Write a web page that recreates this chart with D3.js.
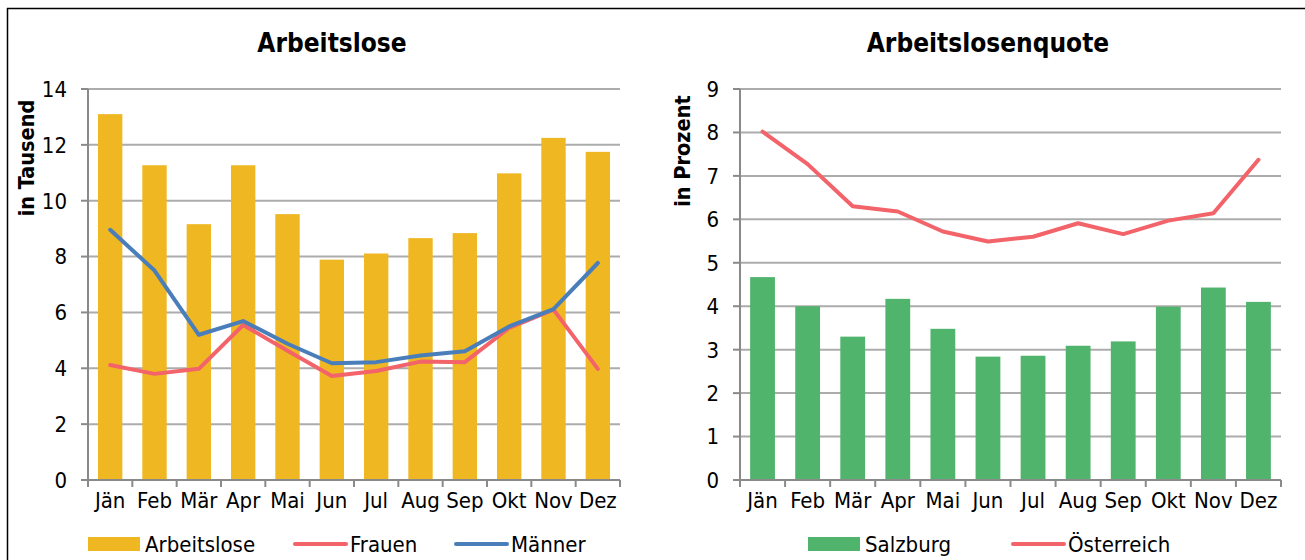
<!DOCTYPE html>
<html>
<head>
<meta charset="utf-8">
<script src="https://cdn.jsdelivr.net/npm/d3@7"></script>
<style>
  body { margin: 0; background: #fff; }
  svg text { font-family: "DejaVu Sans Condensed", "DejaVu Sans", sans-serif; font-stretch: condensed; fill: #000; }
</style>
</head>
<body>
<svg id="chart" width="1305" height="560"></svg>
<script>
// months, shared by both panels
var months = ['Jän', 'Feb', 'Mär', 'Apr', 'Mai', 'Jun', 'Jul', 'Aug', 'Sep', 'Okt', 'Nov', 'Dez'];

// Arbeitslose in Tausend
var arbeitslose = [13.1, 11.27, 9.16, 11.27, 9.52, 7.89, 8.11, 8.66, 8.84, 10.98, 12.25, 11.75];
var frauen      = [4.12, 3.8, 3.98, 5.55, 4.63, 3.72, 3.9, 4.24, 4.22, 5.45, 6.1, 3.98];
var maenner     = [8.96, 7.5, 5.2, 5.69, 4.88, 4.18, 4.22, 4.46, 4.61, 5.5, 6.12, 7.77];
var ticksLeft   = [0, 2, 4, 6, 8, 10, 12, 14];

// Arbeitslosenquote in Prozent
var salzburg    = [4.67, 4.0, 3.3, 4.17, 3.48, 2.84, 2.86, 3.09, 3.19, 3.99, 4.43, 4.1];
var oesterreich = [8.02, 7.27, 6.3, 6.18, 5.72, 5.49, 5.6, 5.91, 5.66, 5.97, 6.14, 7.37];
var ticksRight  = [0, 1, 2, 3, 4, 5, 6, 7, 8, 9];

var svg = d3.select('#chart');

var colors = {
	yellow: '#efb722',
	green: '#50b46c',
	red: '#f3636a',
	blue: '#4a7ebb',
	grid: '#acacac',
	axis: '#8a8a8a'
};

// outer frame (top and left edge only are visible)
svg.append('line').attr('x1', 7).attr('x2', 1305).attr('y1', 8.5).attr('y2', 8.5)
	.attr('stroke', '#000').attr('stroke-width', 1.5);
svg.append('line').attr('x1', 7.5).attr('x2', 7.5).attr('y1', 8).attr('y2', 560)
	.attr('stroke', '#000').attr('stroke-width', 1.5);

function panel(opts) {
	var g = svg.append('g');

	var x = d3.scaleBand()
		.domain(months)
		.range([opts.left, opts.right])
		.paddingInner(0.45)
		.paddingOuter(0.225);

	var y = d3.scaleLinear()
		.domain([0, opts.max])
		.range([opts.bottom, opts.top]);

	var step = x.step();
	var center = function(d, i) { return x(months[i]) + x.bandwidth() / 2; };

	// title
	g.append('text')
		.attr('x', opts.titleX)
		.attr('y', 52)
		.attr('text-anchor', 'middle')
		.attr('font-size', 26)
		.attr('font-weight', 'bold')
		.text(opts.title);

	// y axis title
	g.append('text')
		.attr('transform', 'translate(' + opts.labelX + ',' + opts.labelY + ') rotate(-90)')
		.attr('text-anchor', 'middle')
		.attr('dy', '0.35em')
		.attr('font-size', 21.5)
		.attr('font-weight', 'bold')
		.text(opts.yLabel);

	// gridlines
	g.selectAll('.grid')
		.data(opts.ticks.filter(function(t) { return t > 0; }))
		.enter()
			.append('line')
			.attr('class', 'grid')
			.attr('x1', opts.left)
			.attr('x2', opts.right)
			.attr('y1', function(d) { return y(d); })
			.attr('y2', function(d) { return y(d); })
			.attr('stroke', colors.grid)
			.attr('stroke-width', 2);

	// y ticks + labels
	g.selectAll('.ytick')
		.data(opts.ticks)
		.enter()
			.append('line')
			.attr('x1', opts.left - 7)
			.attr('x2', opts.left)
			.attr('y1', function(d) { return y(d); })
			.attr('y2', function(d) { return y(d); })
			.attr('stroke', colors.axis)
			.attr('stroke-width', 2);

	g.selectAll('.ylab')
		.data(opts.ticks)
		.enter()
			.append('text')
			.attr('x', opts.left - 21)
			.attr('y', function(d) { return y(d); })
			.attr('dy', '0.36em')
			.attr('text-anchor', 'end')
			.attr('font-size', 22)
			.text(function(d) { return d; });

	// bars
	g.selectAll('.bar')
		.data(opts.bars)
		.enter()
			.append('rect')
			.attr('x', function(d, i) { return x(months[i]); })
			.attr('width', x.bandwidth())
			.attr('y', function(d) { return y(d); })
			.attr('height', function(d) { return y(0) - y(d); })
			.attr('fill', opts.barColor);

	// axes lines
	g.append('line')
		.attr('x1', opts.left).attr('x2', opts.left)
		.attr('y1', opts.top).attr('y2', opts.bottom)
		.attr('stroke', colors.axis).attr('stroke-width', 2);
	g.append('line')
		.attr('x1', opts.left - 7).attr('x2', opts.right)
		.attr('y1', opts.bottom).attr('y2', opts.bottom)
		.attr('stroke', colors.axis).attr('stroke-width', 2);

	// x ticks at band boundaries
	g.selectAll('.xtick')
		.data(d3.range(months.length + 1))
		.enter()
			.append('line')
			.attr('x1', function(i) { return opts.left + i * step; })
			.attr('x2', function(i) { return opts.left + i * step; })
			.attr('y1', opts.bottom)
			.attr('y2', opts.bottom + 7)
			.attr('stroke', colors.axis)
			.attr('stroke-width', 2);

	g.selectAll('.xlab')
		.data(months)
		.enter()
			.append('text')
			.attr('x', function(d, i) { return center(d, i); })
			.attr('y', opts.bottom + 28)
			.attr('text-anchor', 'middle')
			.attr('font-size', 22)
			.text(function(d) { return d; });

	// lines
	opts.lines.forEach(function(l) {
		var line = d3.line()
			.x(function(d, i) { return center(d, i); })
			.y(function(d) { return y(d); });
		g.append('path')
			.datum(l.values)
			.attr('d', line)
			.attr('fill', 'none')
			.attr('stroke', l.color)
			.attr('stroke-width', 4)
			.attr('stroke-linejoin', 'round')
			.attr('stroke-linecap', 'round');
	});

	// legend
	var ly = 544;
	opts.legend.forEach(function(item) {
		if (item.type == 'rect') {
			g.append('rect')
				.attr('x', item.x).attr('y', ly - 7)
				.attr('width', 52).attr('height', 14)
				.attr('fill', item.color);
		} else {
			g.append('line')
				.attr('x1', item.x + 2).attr('x2', item.x + 53)
				.attr('y1', ly).attr('y2', ly)
				.attr('stroke', item.color)
				.attr('stroke-width', 4)
				.attr('stroke-linecap', 'round');
		}
		g.append('text')
			.attr('x', item.x + 57)
			.attr('y', ly)
			.attr('dy', '0.36em')
			.attr('font-size', 22)
			.text(item.label);
	});
}

panel({
	title: 'Arbeitslose', titleX: 332,
	yLabel: 'in Tausend', labelX: 26, labelY: 158,
	left: 88, right: 620, top: 89, bottom: 480,
	max: 14, ticks: ticksLeft,
	bars: arbeitslose, barColor: colors.yellow,
	lines: [
		{ values: frauen, color: colors.red },
		{ values: maenner, color: colors.blue }
	],
	legend: [
		{ type: 'rect', x: 88, color: colors.yellow, label: 'Arbeitslose' },
		{ type: 'line', x: 293, color: colors.red, label: 'Frauen' },
		{ type: 'line', x: 454, color: colors.blue, label: 'Männer' }
	]
});

panel({
	title: 'Arbeitslosenquote', titleX: 988,
	yLabel: 'in Prozent', labelX: 682, labelY: 151,
	left: 740, right: 1281, top: 89, bottom: 480,
	max: 9, ticks: ticksRight,
	bars: salzburg, barColor: colors.green,
	lines: [
		{ values: oesterreich, color: colors.red }
	],
	legend: [
		{ type: 'rect', x: 808, color: colors.green, label: 'Salzburg' },
		{ type: 'line', x: 1011, color: colors.red, label: 'Österreich' }
	]
});
</script>
</body>
</html>
